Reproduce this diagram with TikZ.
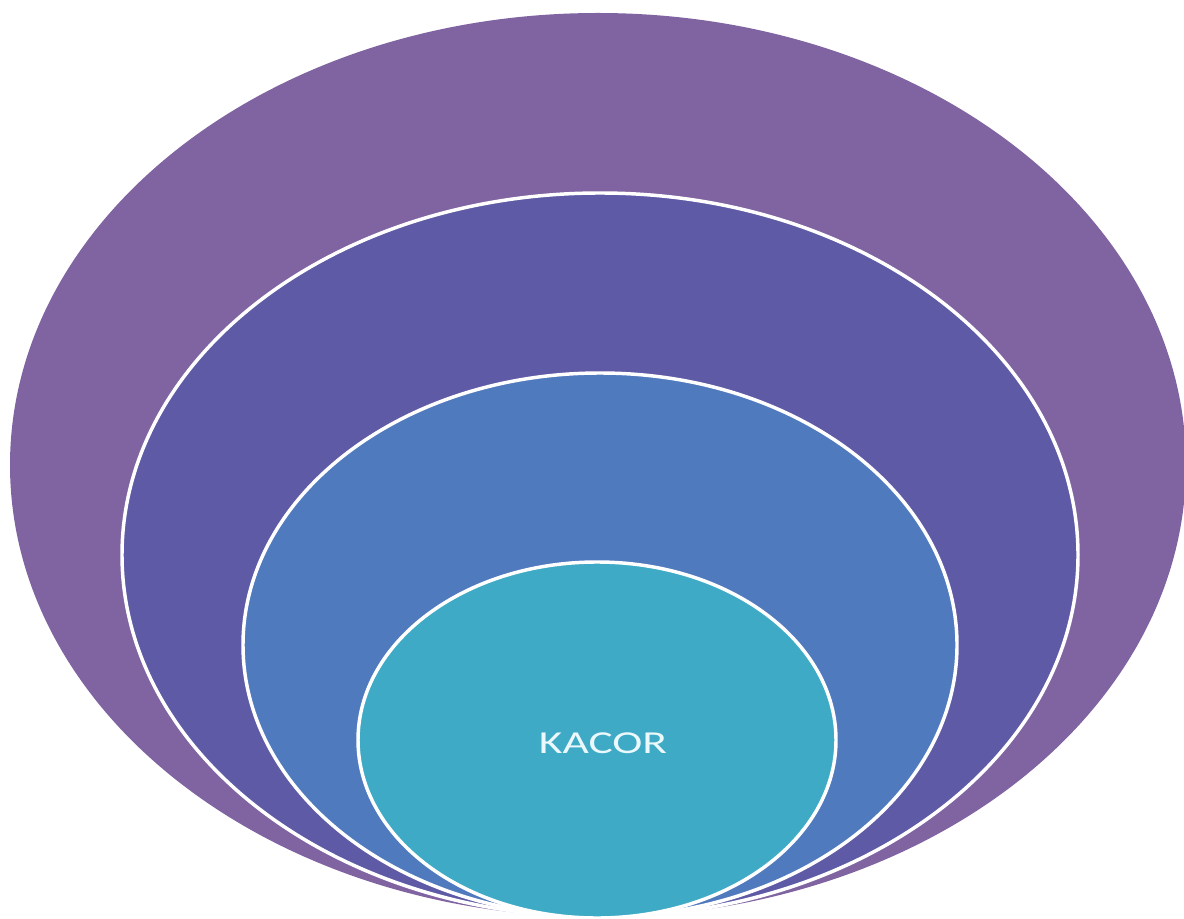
\documentclass[tikz,border=0pt]{standalone}
\usepackage{fontspec}
\setmainfont{Carlito}
\usepackage{xcolor}

\begin{document}
\begin{tikzpicture}[x=0.75pt,y=0.75pt,yscale=-1,xscale=1,
  ring/.style={draw={rgb, 255:red, 255; green, 255; blue, 255 }, line width=2.6pt}]
%set diagram left start at 0, and has height of 919
\clip (0,0) rectangle (1184,919);
\fill [color={rgb, 255:red, 255; green, 255; blue, 255 }] (0,0) rectangle (1184,919);

%Shape: Ellipse [id:dp4810273356012] 
\draw  [draw=none][fill={rgb, 255:red, 128; green, 100; blue, 162 }  ,fill opacity=1 ] (598,465) ellipse (588 and 452) ;
%Shape: Ellipse [id:dp1937640528841] 
\draw  [ring][fill={rgb, 255:red, 95; green, 90; blue, 165 }  ,fill opacity=1 ] (600,555) ellipse (478 and 362) ;
%Shape: Ellipse [id:dp7725164390275] 
\draw  [ring][fill={rgb, 255:red, 80; green, 122; blue, 190 }  ,fill opacity=1 ] (600,645) ellipse (357 and 272) ;
%Shape: Ellipse [id:dp2651098840377] 
\draw  [ring][fill={rgb, 255:red, 62; green, 170; blue, 197 }  ,fill opacity=1 ] (597,740) ellipse (239 and 178) ;

% Text Node
\draw (603,743) node (kacor) [color={rgb, 255:red, 235; green, 248; blue, 252 }  ,opacity=1 ,xscale=1.42 ,inner sep=0.75pt ] {\fontsize{24}{28}\selectfont KACOR};

\end{tikzpicture}
\end{document}
